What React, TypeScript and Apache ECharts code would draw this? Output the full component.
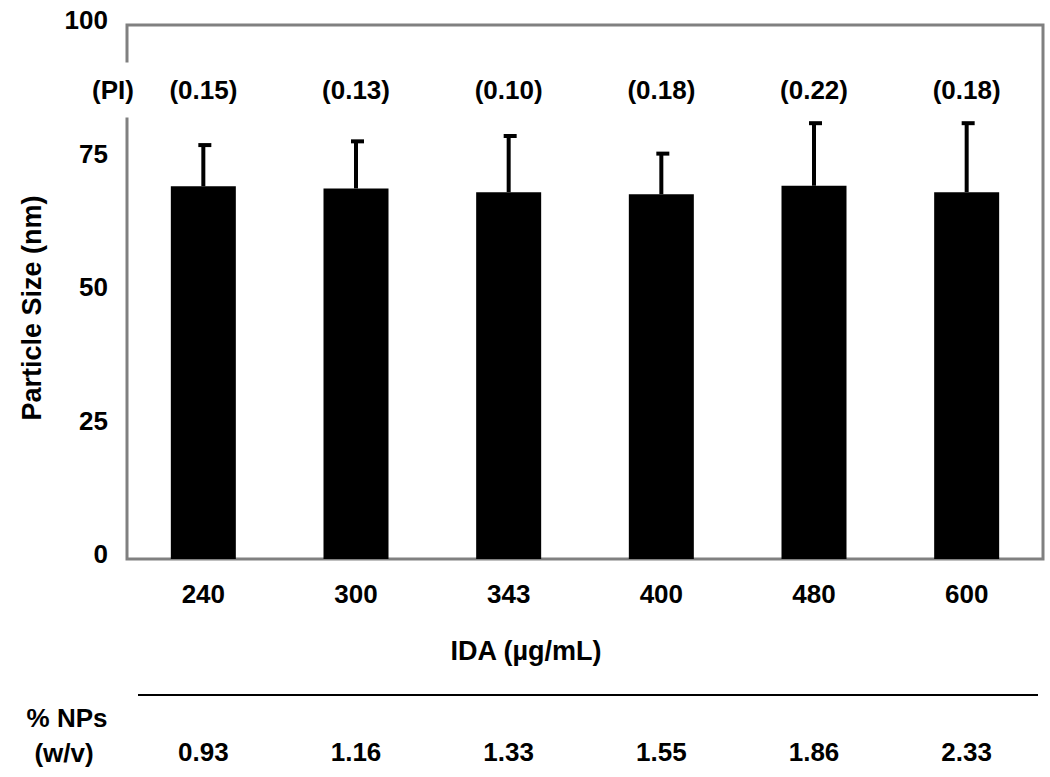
import React, { useEffect, useRef } from "react";
import * as echarts from "echarts";

const categories = ["240", "300", "343", "400", "480", "600"];
const particleSize = [69.8, 69.4, 68.7, 68.3, 69.9, 68.7];
const sizeError = [7.9, 9.0, 10.7, 7.8, 11.9, 13.1];
const piValues = ["(0.15)", "(0.13)", "(0.10)", "(0.18)", "(0.22)", "(0.18)"];
const npsValues = ["0.93", "1.16", "1.33", "1.55", "1.86", "2.33"];
const yTicks = [0, 25, 50, 75, 100];

const FONT = "'Liberation Sans', Arial, sans-serif";

export default function App() {
  const ref = useRef<HTMLDivElement>(null);
  useEffect(() => {
    if (!ref.current) return;
    const chart = echarts.init(ref.current, null, { renderer: "svg" });
    const errData = particleSize.map((v, i) => [i, v, v + sizeError[i]]);
    const piData = piValues.map((p, i) => [i, 87.8, p]);
    chart.setOption({
      animation: false,
      backgroundColor: "#ffffff",
      textStyle: { fontFamily: FONT },
      grid: {
        left: 127,
        right: 7,
        top: 25,
        bottom: 218,
        show: true,
        borderColor: "#808080",
        borderWidth: 3,
        backgroundColor: "transparent",
      },
      xAxis: [
        {
          type: "category",
          data: categories,
          axisLine: { show: false },
          axisTick: { show: false },
          axisLabel: {
            color: "#000",
            fontSize: 26,
            fontWeight: "bold",
            fontFamily: FONT,
            margin: 22,
          },
        },
        {
          type: "category",
          data: npsValues,
          position: "bottom",
          offset: 158,
          axisLine: { show: false },
          axisTick: { show: false },
          axisLabel: {
            color: "#000",
            fontSize: 26,
            fontWeight: "bold",
            fontFamily: FONT,
            margin: 22,
          },
        },
      ],
      yAxis: {
        type: "value",
        min: 0,
        max: 100,
        interval: 25,
        splitLine: { show: false },
        axisLine: { show: false },
        axisTick: { show: false },
        axisLabel: {
          color: "#000",
          fontSize: 26,
          fontWeight: "bold",
          fontFamily: FONT,
          margin: 19,
          verticalAlign: "bottom",
          padding: [0, 0, -8, 0],
          formatter: (v: number) => (yTicks.includes(v) ? String(v) : ""),
        },
      },
      series: [
        {
          type: "bar",
          data: particleSize,
          barWidth: 65,
          itemStyle: { color: "#000" },
          z: 2,
        },
        {
          type: "custom",
          data: errData,
          z: 3,
          renderItem: (params: any, api: any) => {
            const x = api.value(0);
            const lo = api.coord([x, api.value(1)]);
            const hi = api.coord([x, api.value(2)]);
            return {
              type: "group",
              children: [
                {
                  type: "line",
                  shape: { x1: lo[0], y1: lo[1], x2: hi[0], y2: hi[1] },
                  style: { stroke: "#000", lineWidth: 4 },
                },
                {
                  type: "line",
                  shape: { x1: hi[0] - 5, y1: hi[1] + 1, x2: hi[0] + 8, y2: hi[1] + 1 },
                  style: { stroke: "#000", lineWidth: 4 },
                },
              ],
            };
          },
        },
        {
          type: "custom",
          data: piData,
          z: 4,
          renderItem: (params: any, api: any) => {
            const p = api.coord([api.value(0), api.value(1)]);
            return {
              type: "text",
              x: p[0],
              y: p[1],
              style: {
                text: piValues[params.dataIndex],
                fill: "#000",
                font: `bold 26px ${FONT}`,
                align: "center",
                verticalAlign: "middle",
              },
            };
          },
        },
      ],
      graphic: [
        {
          type: "text",
          x: 113,
          y: 90,
          z: 100,
          style: {
            text: "(PI)",
            fill: "#000",
            font: `bold 26px ${FONT}`,
            align: "center",
            verticalAlign: "middle",
            backgroundColor: "#fff",
            padding: [19, 2, 10, 2],
          },
        },
        {
          type: "text",
          x: 32,
          y: 308,
          rotation: Math.PI / 2,
          style: {
            text: "Particle Size (nm)",
            fill: "#000",
            font: `bold 27px ${FONT}`,
            align: "center",
            verticalAlign: "middle",
          },
        },
        {
          type: "text",
          x: 526,
          y: 651,
          style: {
            text: "IDA (µg/mL)",
            fill: "#000",
            font: `bold 27px ${FONT}`,
            align: "center",
            verticalAlign: "middle",
          },
        },
        {
          type: "line",
          shape: { x1: 138, y1: 695, x2: 1038, y2: 695 },
          style: { stroke: "#000", lineWidth: 2 },
        },
        {
          type: "text",
          x: 67,
          y: 718,
          style: {
            text: "% NPs",
            fill: "#000",
            font: `bold 26px ${FONT}`,
            align: "center",
            verticalAlign: "middle",
          },
        },
        {
          type: "text",
          x: 64,
          y: 753,
          style: {
            text: "(w/v)",
            fill: "#000",
            font: `bold 26px ${FONT}`,
            align: "center",
            verticalAlign: "middle",
          },
        },
      ],
    });
    return () => chart.dispose();
  }, []);
  return <div ref={ref} style={{ width: 1050, height: 777, position: "absolute", left: 0, top: 0 }} />;
}
